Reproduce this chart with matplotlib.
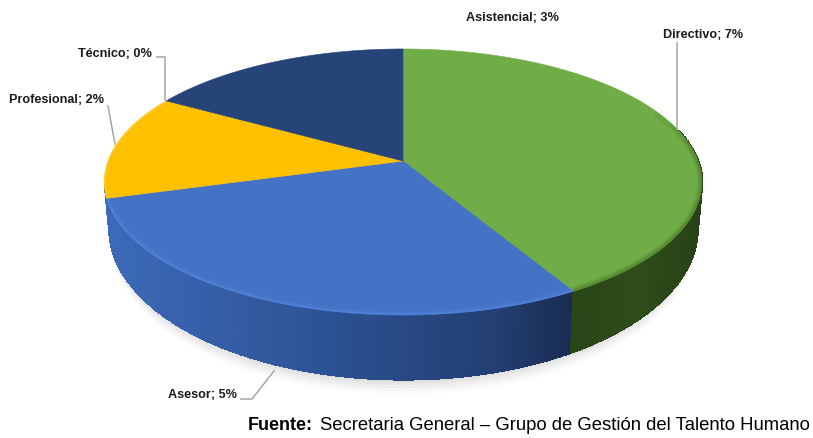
import numpy as np
import matplotlib
matplotlib.use("Agg")
import matplotlib.pyplot as plt
from matplotlib.patches import Polygon

# data
categories = ["Directivo", "Asesor", "Profesional", "Técnico", "Asistencial"]
values = [7.08, 4.9, 2.17, 0.0, 2.83]
colors = ["#70AD47", "#4472C4", "#FFC000", "#A5A5A5", "#264478"]
source_bold = "Fuente:"
source_text = "Secretaria General – Grupo de Gestión del Talento Humano"

plt.rcParams["font.family"] = ["Liberation Sans", "DejaVu Sans"]

fig = plt.figure(figsize=(8.13, 4.38), dpi=100)
ax = fig.add_axes([0, 0, 1, 1])
ax.set_xlim(0, 813)
ax.set_ylim(438, 0)
ax.axis("off")


# perspective disc, in pixel coords
def project(t):
    X, Y = np.cos(t), np.sin(t)
    d = 1 + 0.158 * Y
    return 403 + 295 * X / d, (161 - 104.3 * Y) / d


def wall_bottom(t):
    x, y = project(t)
    return 403 + (x - 403) * 0.985, y + 47 + 18 * (y - 182) / 133


# soft shadow under the pie
full = np.linspace(np.pi, 2 * np.pi, 200)
for grow, alpha in zip([14, 11, 8, 5, 2], [0.025, 0.035, 0.045, 0.05, 0.06]):
    sx, sy = wall_bottom(full)
    ax.fill(403 + (sx - 403) * 0.99, sy + grow, color="#555555", alpha=alpha, lw=0, zorder=1)

# angles of the slices, clockwise from the top
fracs = np.array(values) / sum(values)
edges = np.pi / 2 - 2 * np.pi * np.concatenate([[0], np.cumsum(fracs)])

# side wall, thin quads shaded left to right
blue_x = [100, 300, 500, 575]
blue_rgb = np.array([[0x3D, 0x6B, 0xBA], [0x2E, 0x55, 0x98], [0x22, 0x3E, 0x72], [0x19, 0x2C, 0x52]]) / 255
green_x = [570, 640, 705]
green_rgb = np.array([[0x2A, 0x45, 0x17], [0x2E, 0x4C, 0x1A], [0x28, 0x42, 0x16]]) / 255

ts = np.linspace(edges[2] - 0.1, 0.25, 500)
for t0, t1 in zip(ts[:-1], ts[1:]):
    x0, y0 = project(t0)
    x1, y1 = project(t1)
    bx0, by0 = wall_bottom(t0)
    bx1, by1 = wall_bottom(t1)
    mid = (t0 + t1) / 2
    xm = (x0 + x1) / 2
    if mid > edges[1]:
        rgb = [np.interp(xm, green_x, green_rgb[:, i]) for i in range(3)]
    else:
        rgb = [np.interp(xm, blue_x, blue_rgb[:, i]) for i in range(3)]
    # slight overlap between quads so no seams show
    ax.add_patch(Polygon([(x0, y0), (x1 + 1, y1), (bx1 + 1, by1), (bx0, by0)], closed=True, fc=rgb, lw=0,
                         antialiased=False, zorder=2))

# top of the pie
for i, cat in enumerate(categories):
    if values[i] == 0:
        continue
    t = np.linspace(edges[i], edges[i + 1], 200)
    px, py = project(t)
    ax.add_patch(Polygon(np.column_stack([np.r_[403, px], np.r_[161, py]]), closed=True,
                         fc=colors[i], ec=colors[i], lw=0.4, zorder=3))

# outline of the top, keeps the bevel strokes inside the disc
rim_x, rim_y = project(np.linspace(0, 2 * np.pi, 400))
rim_clip = Polygon(np.column_stack([rim_x, rim_y]), closed=True, transform=ax.transData)

# bevel along the rim
t = np.linspace(edges[2], edges[1], 300)
px, py = project(t)
for lw, alpha in zip([7, 4, 2], [0.12, 0.2, 0.35]):
    ln, = ax.plot(px, py, color="#5B8FEA", lw=lw, alpha=alpha, zorder=4, solid_capstyle="butt")
    ln.set_clip_path(rim_clip)
for start, lw, alpha in zip([0.42, 0.3, 0.18], [7, 5, 3], [0.1, 0.15, 0.25]):
    t = np.linspace(edges[1], start, 200)
    px, py = project(t)
    ln, = ax.plot(px, py, color="#3A6320", lw=lw, alpha=alpha, zorder=4, solid_capstyle="butt")
    ln.set_clip_path(rim_clip)
t = np.linspace(edges[3], edges[2], 100)
px, py = project(t)
ln, = ax.plot(px, py, color="#FFD54A", lw=2, alpha=0.5, zorder=4, solid_capstyle="butt")
ln.set_clip_path(rim_clip)

# leader lines
leaders = [
    [(157, 57), (165, 57), (165, 100)],
    [(108, 106), (115, 144)],
    [(677, 43), (677, 128)],
    [(241, 399), (252, 399), (274, 371)],
]
for line in leaders:
    xs, ys = zip(*line)
    ax.plot(xs, ys, color="#A6A6A6", lw=1.1, zorder=5)

# labels
label_pos = {
    "Directivo": (663, 35),
    "Asesor": (168, 395),
    "Profesional": (9, 100),
    "Técnico": (78, 54),
    "Asistencial": (466, 18),
}
for cat, val in zip(categories, values):
    x, y = label_pos[cat]
    ax.text(x, y, f"{cat}; {round(val)}%", fontsize=9.1, fontweight="bold", color="#1a1a1a",
            ha="left", va="center", zorder=6)

# source line
ax.text(248, 426, source_bold, fontsize=13, fontweight="bold", color="black", ha="left", va="center")
ax.text(320, 426, source_text, fontsize=13.3, color="black", ha="left", va="center")

fig.savefig("out.png", dpi=100)
